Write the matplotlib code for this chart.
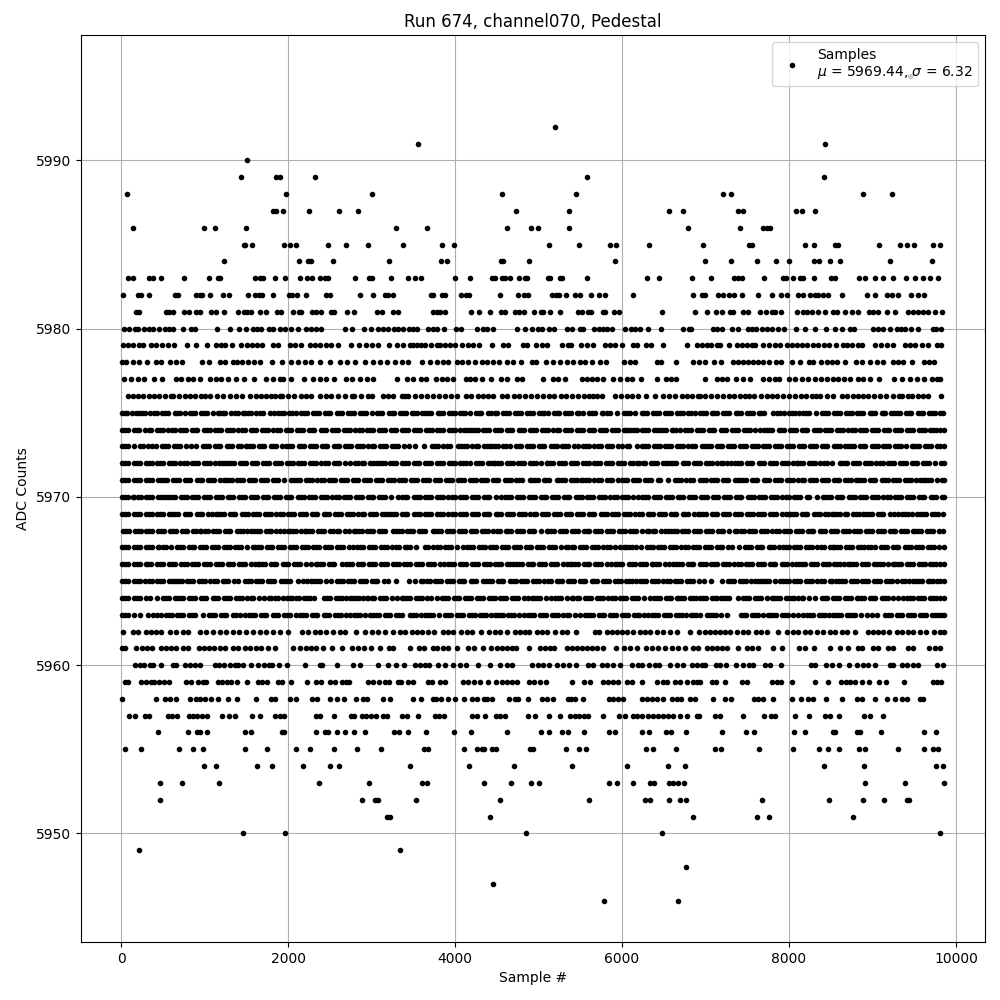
import numpy as np
import matplotlib
matplotlib.use("Agg")
import matplotlib.pyplot as plt

# sample numbers, one list per ADC level
s5995 = [9450]
s5992 = [5200]
s5991 = [3560, 8434]
s5990 = [1508]
s5989 = [1436, 1860, 1900, 2324, 5584, 8422]
s5988 = [68, 1976, 3008, 4566, 5452, 7213, 7309, 8889, 9236]
s5987 = [1820, 1850, 1940, 2252, 2612, 2840, 4734, 5368, 6565, 6732, 7393, 7452, 8087, 8151, 8314]
s5986 = [140, 992, 1124, 1496, 3296, 3668, 4626, 4913, 4997, 5368, 6792, 7416, 7692, 7732, 7772]
s5985 = [1472, 1490, 1568, 1952, 2024, 2096, 2480, 2696, 2960, 3380, 3848, 3991, 5128, 5488, 5859, 5931, 6326,
         6974, 7524, 7552, 8190, 8302, 8550, 8590, 9080, 9332, 9415, 9499, 9727, 9810]
s5984 = [1232, 2132, 2240, 2280, 2540, 3212, 3836, 3908, 4554, 4578, 4889, 5919, 6998, 7309, 7620, 7847, 8003,
         8302, 8354, 8494, 8613, 9212, 9715]
s5983 = [80, 148, 340, 380, 476, 752, 1052, 1160, 1180, 1600, 1660, 1700, 1844, 1964, 2144, 2228, 2288, 2384, 2444,
         2476, 2804, 2972, 3004, 3236, 3441, 3525, 3596, 4003, 4183, 4446, 4478, 4566, 4602, 4662, 4769, 4837, 4857,
         5117, 5137, 5256, 5284, 5584, 6302, 6445, 6834, 7069, 7345, 7393, 7432, 7704, 7923, 7963, 8051, 8131, 8163,
         8302, 8506, 8554, 8841, 8913, 9028, 9120, 9248, 9404, 9511, 9607, 9691, 9790]
s5982 = [20, 200, 236, 332, 640, 676, 896, 940, 964, 1064, 1220, 1292, 1520, 1600, 1652, 1692, 1820, 2008, 2052, 2112,
         2216, 2460, 2500, 2864, 3020, 3164, 3200, 3260, 3712, 3740, 3848, 3880, 4075, 4131, 4163, 4542, 4757, 4829,
         4877, 5164, 5208, 5248, 5332, 5440, 5496, 5631, 5727, 5795, 6134, 6854, 6958, 6990, 7153, 7205, 7285, 7341,
         7432, 7632, 7800, 7899, 7979, 8111, 8171, 8250, 8310, 8350, 8410, 8470, 8637, 8937, 9032, 9176, 9228, 9308,
         9463, 9547, 9619]
s5981 = [180, 212, 532, 568, 624, 748, 812, 900, 940, 1080, 1132, 1232, 1400, 1468, 1508, 1560, 1664, 1736, 1872, 1916,
         2060, 2132, 2160, 2284, 2340, 2392, 2512, 2548, 2708, 2792, 3068, 3120, 3260, 3312, 3740, 3780, 3820, 3884,
         4195, 4291, 4422, 4554, 4598, 4722, 4769, 4825, 4949, 5033, 5057, 5140, 5260, 5476, 5516, 5595, 5627, 5775,
         5799, 5907, 5962, 6481, 6878, 7021, 7125, 7201, 7293, 7333, 7452, 7512, 7652, 7720, 7792, 7831, 7899, 8099,
         8171, 8211, 8270, 8350, 8430, 8530, 8570, 8669, 8749, 8829, 8961, 9009, 9068, 9176, 9272, 9427, 9487, 9547,
         9607, 9663, 9751, 9834]
s5980 = [40, 92, 172, 200, 280, 332, 380, 452, 520, 572, 620, 736, 832, 880, 1148, 1304, 1412, 1496, 1580, 1628, 1680,
         1772, 1820, 1900, 1960, 2036, 2120, 2216, 2280, 2340, 2400, 2684, 2760, 2912, 2996, 3080, 3140, 3200, 3272,
         3320, 3373, 3453, 3493, 3541, 3680, 3740, 3788, 3872, 4011, 4075, 4267, 4339, 4386, 4458, 4745, 4841, 4925,
         4997, 5037, 5125, 5188, 5336, 5404, 5496, 5532, 5667, 5723, 5775, 5823, 5879, 6038, 6102, 6158, 6214, 6314,
         6469, 6732, 6804, 6820, 7093, 7141, 7193, 7321, 7385, 7512, 7552, 7600, 7672, 7732, 7792, 7871, 7939, 8087,
         8195, 8314, 8438, 8554, 8629, 8729, 8777, 9009, 9068, 9128, 9208, 9288, 9336, 9391, 9463, 9547, 9727, 9759, 9826]
s5979 = [28, 80, 140, 220, 268, 360, 420, 492, 560, 628, 788, 892, 1028, 1140, 1200, 1248, 1328, 1440, 1508, 1572, 1628,
         1692, 1820, 1880, 2020, 2080, 2160, 2260, 2320, 2388, 2460, 2520, 2600, 2748, 2852, 2928, 3000, 3080, 3212,
         3300, 3380, 3461, 3501, 3548, 3588, 3640, 3708, 3780, 3820, 3880, 3940, 4000, 4079, 4159, 4219, 4291, 4438,
         4570, 4638, 4809, 4857, 4969, 5037, 5097, 5284, 5356, 5388, 5512, 5575, 5647, 5791, 5855, 5915, 5994, 6134,
         6182, 6282, 6349, 6493, 6772, 6902, 6954, 7014, 7065, 7141, 7173, 7285, 7373, 7432, 7492, 7552, 7592, 7684,
         7764, 7827, 7891, 7971, 8031, 8091, 8151, 8211, 8282, 8350, 8418, 8482, 8558, 8649, 8697, 8757, 8821, 8869,
         9028, 9096, 9176, 9248, 9387, 9447, 9507, 9587, 9667, 9767, 9826]
s5978 = [13, 60, 140, 220, 308, 420, 480, 580, 652, 728, 968, 1048, 1180, 1240, 1340, 1388, 1452, 1520, 1588, 1660, 1808,
         1924, 2040, 2120, 2200, 2280, 2388, 2500, 2620, 2700, 2800, 2916, 3020, 3100, 3180, 3280, 3360, 3441, 3608,
         3700, 3780, 3860, 3920, 4019, 4079, 4159, 4239, 4319, 4378, 4458, 4530, 4626, 4690, 4793, 4917, 4969, 5089,
         5168, 5256, 5336, 5416, 5496, 5556, 5635, 5735, 5811, 6022, 6094, 6154, 6413, 6461, 6649, 6854, 6920, 6994,
         7101, 7189, 7325, 7393, 7452, 7512, 7572, 7632, 7684, 7764, 7843, 7899, 8031, 8131, 8242, 8282, 8378, 8450,
         8510, 8570, 8669, 8801, 8869, 8969, 9056, 9120, 9240, 9308, 9368, 9471, 9619, 9679, 9739]
s5977 = [40, 120, 200, 280, 400, 492, 652, 720, 800, 860, 940, 1064, 1140, 1200, 1280, 1380, 1472, 1592, 1740, 1820, 1900,
         1940, 2032, 2196, 2300, 2380, 2460, 2548, 2692, 2760, 2860, 2940, 3020, 3300, 3420, 3493, 3588, 3652, 3772,
         3840, 3900, 3971, 4131, 4179, 4239, 4319, 4426, 4546, 4618, 4738, 4797, 5049, 5176, 5236, 5316, 5516, 5575,
         5635, 5695, 5775, 5895, 5974, 6054, 6114, 6222, 6421, 6525, 6581, 6645, 6998, 7141, 7201, 7261, 7361, 7452,
         7532, 7692, 7764, 7831, 7883, 8003, 8071, 8151, 8230, 8310, 8378, 8450, 8530, 8590, 8657, 8729, 8821, 8889,
         8969, 9080, 9256, 9348, 9447, 9527, 9619, 9707, 9767, 9814]
s5976 = [80, 140, 205, 262, 330, 395, 460, 530, 600, 620, 690, 760, 820, 890, 960, 1000, 1068, 1145, 1220, 1300, 1372,
         1450, 1540, 1610, 1675, 1740, 1800, 1840, 1900, 1932, 2000, 2070, 2150, 2215, 2280, 2380, 2450, 2520, 2600,
         2680, 2760, 2788, 2868, 2960, 3000, 3132, 3200, 3260, 3360, 3400, 3441, 3520, 3590, 3665, 3730, 3805, 3875,
         3950, 4019, 4127, 4190, 4270, 4335, 4400, 4458, 4558, 4625, 4700, 4770, 4840, 4905, 4985, 5055, 5120, 5190,
         5265, 5330, 5400, 5475, 5540, 5600, 5655, 5695, 5755, 5915, 5985, 6054, 6114, 6194, 6282, 6395, 6493, 6565,
         6640, 6713, 6772, 6840, 6912, 6934, 6994, 7070, 7140, 7205, 7285, 7345, 7410, 7470, 7524, 7580, 7660, 7740,
         7792, 7860, 7930, 8000, 8075, 8140, 8205, 8270, 8322, 8370, 8450, 8530, 8637, 8700, 8765, 8830, 8889, 8949,
         9015, 9090, 9160, 9240, 9320, 9352, 9427, 9467, 9540, 9607, 9667, 9815]
s5975 = [13, 45, 75, 130, 180, 212, 250, 285, 350, 390, 425, 495, 530, 560, 640, 670, 700, 770, 820, 855, 885, 955, 990, 1030,
         1095, 1160, 1180, 1215, 1250, 1320, 1360, 1395, 1460, 1480, 1515, 1555, 1620, 1660, 1700, 1780, 1828, 1880, 1915,
         1950, 2015, 2050, 2090, 2155, 2195, 2230, 2300, 2335, 2370, 2440, 2475, 2505, 2580, 2615, 2645, 2720, 2755, 2790,
         2860, 2895, 2930, 3000, 3060, 3095, 3130, 3205, 3240, 3270, 3345, 3375, 3410, 3480, 3510, 3540, 3600, 3644, 3680,
         3715, 3790, 3825, 3860, 3925, 3965, 4000, 4065, 4100, 4125, 4180, 4250, 4285, 4315, 4390, 4425, 4480, 4506, 4578,
         4610, 4645, 4720, 4750, 4785, 4860, 4895, 4930, 5009, 5037, 5070, 5110, 5180, 5215, 5245, 5320, 5355, 5390, 5455,
         5490, 5530, 5600, 5640, 5680, 5755, 5775, 5815, 5860, 5942, 6022, 6055, 6090, 6158, 6234, 6265, 6300, 6375, 6410,
         6440, 6520, 6555, 6590, 6660, 6695, 6725, 6792, 6830, 6870, 6932, 6965, 7000, 7073, 7105, 7140, 7215, 7250, 7280,
         7360, 7390, 7425, 7500, 7530, 7565, 7640, 7670, 7705, 7812, 7860, 7895, 7935, 8005, 8040, 8070, 8123, 8163, 8200,
         8240, 8322, 8398, 8435, 8470, 8535, 8575, 8610, 8680, 8715, 8750, 8820, 8855, 8890, 8965, 8995, 9035, 9108, 9120,
         9155, 9216, 9256, 9290, 9325, 9400, 9435, 9465, 9540, 9575, 9610, 9680, 9715, 9745, 9810, 9850]
s5974 = [13, 45, 80, 150, 190, 215, 290, 330, 360, 425, 465, 500, 565, 605, 640, 705, 745, 780, 850, 885, 915, 990, 1025, 1060,
         1125, 1165, 1200, 1270, 1305, 1340, 1405, 1445, 1480, 1550, 1585, 1615, 1690, 1725, 1760, 1825, 1865, 1900, 1970,
         2005, 2040, 2105, 2145, 2180, 2250, 2285, 2315, 2390, 2425, 2460, 2530, 2565, 2595, 2670, 2705, 2740, 2805, 2845,
         2880, 2950, 2985, 3020, 3085, 3125, 3160, 3230, 3265, 3295, 3370, 3405, 3440, 3510, 3545, 3575, 3650, 3685, 3720,
         3785, 3825, 3860, 3930, 3965, 4000, 4065, 4105, 4140, 4179, 4199, 4235, 4270, 4340, 4375, 4405, 4480, 4515, 4550,
         4620, 4655, 4685, 4760, 4795, 4830, 4895, 4935, 4970, 5040, 5075, 5110, 5175, 5215, 5250, 5320, 5350, 5385, 5460,
         5495, 5530, 5600, 5635, 5665, 5740, 5775, 5810, 5875, 5915, 5950, 6020, 6050, 6074, 6102, 6140, 6175, 6240, 6280,
         6315, 6385, 6422, 6453, 6490, 6530, 6593, 6613, 6650, 6690, 6760, 6795, 6825, 6900, 6935, 6970, 7040, 7075, 7105,
         7180, 7215, 7250, 7315, 7355, 7390, 7460, 7495, 7530, 7595, 7650, 7700, 7732, 7765, 7800, 7875, 7905, 7940, 8015,
         8050, 8085, 8155, 8190, 8220, 8295, 8330, 8365, 8430, 8470, 8505, 8575, 8610, 8645, 8710, 8750, 8785, 8855, 8890,
         8920, 8995, 9030, 9065, 9135, 9170, 9200, 9275, 9310, 9345, 9410, 9450, 9485, 9555, 9590, 9625, 9690, 9730, 9765,
         9810, 9855]
s5973 = [13, 45, 85, 155, 230, 265, 320, 368, 420, 490, 525, 560, 635, 665, 700, 775, 832, 892, 980, 1015, 1050, 1120, 1155,
         1190, 1265, 1295, 1330, 1405, 1440, 1492, 1508, 1545, 1580, 1650, 1685, 1715, 1790, 1825, 1860, 1932, 1980, 2015,
         2050, 2125, 2155, 2190, 2265, 2300, 2335, 2405, 2440, 2470, 2545, 2580, 2615, 2680, 2720, 2755, 2825, 2860, 2895,
         2960, 3000, 3035, 3105, 3135, 3170, 3245, 3280, 3315, 3385, 3453, 3525, 3632, 3720, 3760, 3795, 3860, 3900, 3935,
         4040, 4067, 4105, 4140, 4205, 4245, 4280, 4350, 4385, 4418, 4438, 4475, 4510, 4580, 4615, 4655, 4725, 4760, 4795,
         4860, 4900, 4935, 5005, 5040, 5070, 5145, 5180, 5215, 5285, 5320, 5350, 5425, 5468, 5528, 5565, 5600, 5670, 5710,
         5745, 5815, 5845, 5880, 5955, 6000, 6062, 6086, 6182, 6234, 6270, 6305, 6380, 6415, 6450, 6515, 6555, 6590, 6660,
         6695, 6730, 6795, 6835, 6870, 6954, 6994, 7030, 7065, 7135, 7170, 7200, 7275, 7310, 7345, 7410, 7450, 7485, 7555,
         7590, 7625, 7690, 7730, 7765, 7835, 7870, 7900, 7975, 8010, 8045, 8115, 8150, 8180, 8255, 8290, 8325, 8395, 8430,
         8460, 8535, 8570, 8605, 8670, 8709, 8745, 8780, 8850, 8885, 8915, 8990, 9025, 9060, 9130, 9165, 9195, 9270, 9305,
         9340, 9405, 9467, 9487, 9525, 9560, 9630, 9665, 9695, 9770, 9810, 9855]
s5972 = [13, 50, 85, 150, 190, 225, 295, 330, 365, 430, 470, 505, 575, 610, 645, 710, 750, 785, 855, 890, 920, 995, 1030, 1065,
         1130, 1170, 1205, 1240, 1280, 1315, 1350, 1420, 1460, 1495, 1565, 1600, 1630, 1705, 1740, 1775, 1845, 1880, 1910,
         1985, 2020, 2055, 2120, 2160, 2195, 2265, 2300, 2335, 2400, 2440, 2475, 2545, 2580, 2610, 2685, 2745, 2800, 2840,
         2880, 2915, 2985, 3020, 3052, 3084, 3120, 3155, 3225, 3260, 3290, 3365, 3400, 3435, 3505, 3540, 3570, 3645, 3680,
         3715, 3780, 3820, 3855, 3925, 3960, 3995, 4060, 4100, 4135, 4179, 4250, 4285, 4320, 4395, 4430, 4466, 4478, 4515,
         4550, 4620, 4660, 4698, 4757, 4795, 4830, 4900, 4935, 4970, 5035, 5097, 5105, 5140, 5175, 5250, 5285, 5320, 5385,
         5425, 5460, 5530, 5565, 5600, 5665, 5705, 5740, 5810, 5845, 5875, 5950, 5985, 6020, 6090, 6130, 6174, 6206, 6245,
         6280, 6350, 6385, 6415, 6490, 6525, 6553, 6581, 6615, 6650, 6725, 6760, 6795, 6860, 6900, 6935, 7005, 7040, 7075,
         7140, 7180, 7215, 7261, 7301, 7353, 7390, 7425, 7495, 7530, 7560, 7635, 7670, 7705, 7770, 7810, 7845, 7915, 7950,
         7985, 8050, 8091, 8099, 8135, 8170, 8240, 8275, 8310, 8375, 8415, 8450, 8520, 8610, 8629, 8665, 8700, 8770, 8805,
         8835, 8910, 8945, 8980, 9045, 9085, 9120, 9190, 9225, 9260, 9325, 9365, 9400, 9470, 9505, 9535, 9610, 9645, 9680,
         9750, 9815, 9855]
s5971 = [13, 50, 85, 150, 190, 225, 295, 330, 365, 440, 480, 515, 550, 620, 660, 695, 765, 800, 830, 905, 940, 975, 1040, 1080,
         1115, 1180, 1228, 1252, 1290, 1325, 1390, 1430, 1465, 1535, 1570, 1600, 1675, 1710, 1745, 1815, 1850, 1880, 1955,
         2040, 2068, 2105, 2140, 2210, 2245, 2285, 2350, 2390, 2425, 2495, 2530, 2560, 2635, 2670, 2705, 2775, 2810, 2840,
         2915, 2950, 2985, 3050, 3090, 3125, 3195, 3230, 3265, 3330, 3370, 3405, 3475, 3510, 3540, 3615, 3650, 3685, 3755,
         3790, 3820, 3895, 3930, 3965, 4030, 4070, 4105, 4175, 4210, 4245, 4310, 4350, 4385, 4455, 4490, 4520, 4595, 4630,
         4665, 4735, 4770, 4800, 4897, 4917, 4955, 4990, 5060, 5095, 5125, 5216, 5248, 5285, 5320, 5390, 5425, 5455, 5508,
         5528, 5565, 5600, 5670, 5710, 5745, 5815, 5850, 5880, 5954, 5994, 6030, 6065, 6135, 6170, 6200, 6275, 6310, 6345,
         6433, 6453, 6545, 6633, 6670, 6705, 6770, 6810, 6845, 6932, 6965, 7000, 7065, 7105, 7140, 7210, 7245, 7275, 7350,
         7393, 7413, 7450, 7485, 7555, 7590, 7620, 7695, 7730, 7765, 7830, 7870, 7905, 7975, 8010, 8045, 8110, 8150, 8185,
         8255, 8290, 8320, 8395, 8430, 8465, 8535, 8570, 8600, 8675, 8710, 8745, 8797, 8829, 8865, 8900, 8970, 9005, 9035,
         9110, 9145, 9180, 9250, 9285, 9315, 9390, 9425, 9460, 9525, 9565, 9599, 9627, 9665, 9700, 9770, 9835, 9855]
s5970 = [13, 50, 80, 140, 160, 200, 235, 300, 340, 375, 445, 480, 510, 548, 572, 610, 645, 715, 750, 785, 850, 890, 925, 995,
         1030, 1060, 1135, 1170, 1205, 1275, 1310, 1340, 1415, 1450, 1485, 1550, 1590, 1625, 1695, 1730, 1765, 1830, 1870,
         1905, 1975, 2010, 2040, 2115, 2150, 2185, 2255, 2290, 2320, 2395, 2430, 2465, 2530, 2570, 2605, 2675, 2710, 2745,
         2810, 2850, 2885, 2955, 2990, 3020, 3095, 3130, 3165, 3235, 3320, 3361, 3395, 3430, 3505, 3540, 3575, 3640, 3680,
         3715, 3785, 3820, 3855, 3920, 3960, 3995, 4065, 4100, 4130, 4205, 4240, 4275, 4345, 4380, 4410, 4485, 4546, 4598,
         4635, 4670, 4745, 4780, 4815, 4880, 4920, 4955, 5025, 5060, 5095, 5160, 5200, 5235, 5305, 5340, 5370, 5445, 5480,
         5515, 5585, 5620, 5650, 5725, 5760, 5795, 5860, 5900, 5935, 6005, 6040, 6075, 6134, 6190, 6242, 6280, 6315, 6385,
         6420, 6450, 6525, 6560, 6595, 6665, 6700, 6730, 6805, 6840, 6875, 6940, 6980, 7015, 7085, 7120, 7155, 7220, 7260,
         7295, 7365, 7400, 7430, 7505, 7540, 7575, 7645, 7680, 7710, 7785, 7820, 7855, 7920, 7960, 7995, 8065, 8100, 8135,
         8210, 8242, 8330, 8410, 8430, 8465, 8500, 8575, 8610, 8640, 8715, 8750, 8785, 8850, 8890, 8925, 8995, 9030, 9065,
         9130, 9170, 9205, 9275, 9310, 9340, 9415, 9450, 9485, 9555, 9590, 9620, 9695, 9730, 9765, 9830, 9855]
s5969 = [13, 50, 85, 150, 190, 225, 295, 330, 365, 430, 470, 505, 575, 610, 640, 680, 760, 795, 830, 905, 940, 975, 1040, 1090,
         1140, 1160, 1200, 1235, 1305, 1340, 1370, 1445, 1480, 1515, 1585, 1620, 1650, 1725, 1760, 1795, 1860, 1900, 1935,
         2005, 2040, 2075, 2140, 2180, 2215, 2285, 2320, 2350, 2425, 2460, 2495, 2565, 2600, 2630, 2705, 2740, 2775, 2840,
         2880, 2915, 2985, 3020, 3055, 3120, 3160, 3200, 3220, 3260, 3295, 3365, 3400, 3430, 3505, 3540, 3575, 3645, 3680,
         3710, 3785, 3820, 3855, 3920, 3960, 3995, 4065, 4100, 4135, 4200, 4240, 4275, 4345, 4380, 4410, 4485, 4520, 4555,
         4625, 4660, 4690, 4765, 4800, 4835, 4900, 4940, 4975, 5045, 5080, 5115, 5180, 5220, 5255, 5325, 5360, 5390, 5465,
         5500, 5535, 5605, 5640, 5670, 5745, 5780, 5815, 5880, 5920, 5955, 6025, 6060, 6095, 6160, 6200, 6235, 6305, 6340,
         6370, 6445, 6480, 6515, 6585, 6620, 6650, 6725, 6760, 6795, 6860, 6914, 6934, 6970, 7005, 7075, 7110, 7140, 7215,
         7250, 7285, 7355, 7390, 7420, 7495, 7530, 7565, 7630, 7670, 7705, 7775, 7810, 7845, 7910, 7960, 8003, 8011, 8050,
         8085, 8155, 8190, 8220, 8295, 8330, 8365, 8430, 8470, 8510, 8538, 8575, 8610, 8669, 8697, 8769, 8805, 8840, 8889,
         8921, 8960, 8995, 9065, 9100, 9130, 9205, 9255, 9308, 9348, 9390, 9427, 9467, 9527, 9567, 9605, 9640, 9710, 9745,
         9780, 9846]
s5968 = [20, 55, 90, 165, 200, 235, 300, 340, 375, 445, 480, 515, 580, 620, 655, 725, 760, 790, 865, 900, 940, 960, 1000, 1035,
         1100, 1140, 1175, 1245, 1280, 1310, 1385, 1420, 1455, 1510, 1560, 1592, 1630, 1665, 1735, 1770, 1800, 1860, 1900,
         1950, 2000, 2020, 2060, 2095, 2150, 2200, 2220, 2255, 2290, 2360, 2400, 2435, 2500, 2540, 2580, 2615, 2685, 2735,
         2788, 2808, 2845, 2880, 2950, 2985, 3015, 3090, 3125, 3160, 3260, 3288, 3325, 3360, 3425, 3465, 3500, 3570, 3605,
         3635, 3740, 3760, 3800, 3835, 3905, 3940, 3970, 4045, 4080, 4115, 4185, 4220, 4250, 4325, 4360, 4395, 4460, 4500,
         4535, 4605, 4640, 4675, 4740, 4780, 4815, 4885, 4920, 4950, 5025, 5097, 5117, 5155, 5190, 5260, 5295, 5325, 5400,
         5435, 5470, 5540, 5575, 5605, 5680, 5715, 5750, 5815, 5855, 5890, 5960, 5995, 6030, 6095, 6135, 6170, 6240, 6302,
         6326, 6365, 6400, 6470, 6515, 6553, 6581, 6620, 6655, 6720, 6760, 6795, 6865, 6900, 6930, 7005, 7040, 7075, 7145,
         7180, 7210, 7285, 7353, 7381, 7420, 7455, 7525, 7560, 7590, 7665, 7700, 7735, 7800, 7840, 7875, 7945, 7980, 8015,
         8080, 8120, 8155, 8225, 8260, 8290, 8365, 8400, 8435, 8505, 8540, 8570, 8645, 8680, 8715, 8780, 8820, 8855, 8925,
         8960, 8995, 9060, 9100, 9135, 9205, 9240, 9270, 9345, 9380, 9415, 9479, 9511, 9550, 9585, 9655, 9690, 9720, 9795, 9850]
s5967 = [13, 50, 85, 155, 195, 230, 300, 335, 370, 440, 460, 500, 535, 600, 668, 705, 740, 810, 845, 875, 950, 985, 1020, 1085,
         1125, 1160, 1230, 1265, 1300, 1365, 1405, 1440, 1510, 1580, 1600, 1640, 1675, 1745, 1780, 1810, 1885, 1920, 1955,
         2020, 2060, 2095, 2165, 2200, 2235, 2300, 2340, 2375, 2445, 2480, 2510, 2585, 2620, 2655, 2725, 2780, 2828, 2865,
         2900, 2975, 3010, 3040, 3115, 3150, 3185, 3250, 3290, 3325, 3395, 3430, 3460, 3535, 3640, 3680, 3740, 3780, 3815,
         3885, 3920, 3950, 4025, 4099, 4139, 4175, 4210, 4285, 4320, 4355, 4420, 4460, 4495, 4565, 4600, 4630, 4705, 4740,
         4775, 4845, 4880, 4910, 4985, 5020, 5055, 5120, 5160, 5195, 5265, 5324, 5356, 5395, 5430, 5500, 5535, 5565, 5640,
         5675, 5710, 5775, 5815, 5850, 5920, 5970, 6022, 6046, 6085, 6120, 6170, 6222, 6294, 6330, 6365, 6435, 6470, 6500,
         6575, 6610, 6645, 6710, 6750, 6785, 6855, 6890, 6925, 6990, 7030, 7065, 7135, 7170, 7200, 7275, 7321, 7400, 7472,
         7510, 7545, 7615, 7650, 7680, 7755, 7790, 7825, 7883, 7923, 7960, 7995, 8065, 8100, 8130, 8205, 8240, 8275, 8340,
         8380, 8415, 8485, 8530, 8542, 8580, 8615, 8685, 8720, 8750, 8825, 8860, 8895, 8940, 8980, 9028, 9100, 9140, 9175,
         9245, 9280, 9310, 9385, 9420, 9455, 9520, 9560, 9595, 9665, 9700, 9735, 9800, 9855]
s5966 = [13, 50, 80, 150, 190, 225, 295, 325, 360, 435, 470, 505, 570, 610, 645, 715, 750, 785, 850, 890, 925, 995, 1030, 1060,
         1135, 1170, 1205, 1275, 1310, 1340, 1415, 1450, 1485, 1550, 1600, 1640, 1652, 1690, 1725, 1795, 1830, 1860, 1935,
         1970, 2005, 2070, 2110, 2145, 2215, 2280, 2332, 2348, 2385, 2420, 2490, 2525, 2555, 2640, 2692, 2730, 2765, 2835,
         2870, 2900, 2975, 3010, 3045, 3115, 3150, 3180, 3255, 3290, 3325, 3390, 3430, 3465, 3535, 3570, 3600, 3675, 3710,
         3745, 3815, 3872, 3920, 3955, 3990, 4060, 4100, 4135, 4205, 4240, 4270, 4345, 4380, 4415, 4480, 4520, 4555, 4625,
         4660, 4698, 4726, 4765, 4800, 4870, 4905, 4935, 5010, 5045, 5080, 5145, 5185, 5220, 5290, 5335, 5376, 5396, 5435,
         5470, 5540, 5575, 5605, 5680, 5715, 5750, 5815, 5865, 5914, 5935, 5970, 6005, 6080, 6115, 6150, 6215, 6255, 6290,
         6353, 6373, 6410, 6445, 6515, 6565, 6613, 6645, 6685, 6720, 6790, 6825, 6855, 6930, 6965, 7000, 7065, 7105, 7140,
         7210, 7245, 7280, 7345, 7385, 7420, 7490, 7525, 7555, 7630, 7665, 7700, 7770, 7805, 7835, 7910, 7945, 7980, 8030,
         8083, 8123, 8160, 8195, 8265, 8300, 8330, 8405, 8440, 8475, 8540, 8580, 8615, 8660, 8709, 8729, 8765, 8800, 8870,
         8905, 8940, 9020, 9056, 9095, 9130, 9190, 9248, 9272, 9310, 9345, 9415, 9450, 9480, 9555, 9590, 9625, 9690, 9730,
         9765, 9810, 9855]
s5965 = [13, 50, 85, 155, 190, 225, 290, 330, 365, 435, 470, 500, 575, 610, 640, 652, 690, 725, 795, 830, 860, 935, 970, 1005,
         1070, 1110, 1145, 1215, 1250, 1285, 1350, 1400, 1480, 1515, 1550, 1620, 1655, 1690, 1760, 1795, 1830, 1920, 1948,
         1985, 2020, 2120, 2180, 2230, 2280, 2312, 2350, 2385, 2450, 2512, 2580, 2620, 2655, 2720, 2755, 2790, 2865, 2900,
         2935, 3005, 3040, 3070, 3145, 3200, 3296, 3449, 3520, 3588, 3620, 3660, 3695, 3765, 3800, 3830, 3905, 3940, 3975,
         4045, 4080, 4110, 4185, 4220, 4255, 4339, 4370, 4410, 4445, 4515, 4550, 4580, 4655, 4690, 4725, 4790, 4830, 4865,
         4935, 4970, 5005, 5070, 5110, 5145, 5215, 5250, 5280, 5355, 5390, 5425, 5495, 5530, 5560, 5635, 5670, 5705, 5770,
         5810, 5845, 5915, 5950, 5985, 6050, 6080, 6114, 6166, 6214, 6250, 6285, 6360, 6395, 6430, 6495, 6535, 6570, 6640,
         6675, 6705, 6780, 6815, 6850, 6920, 6982, 7061, 7193, 7273, 7310, 7345, 7415, 7450, 7485, 7550, 7590, 7625, 7660,
         7692, 7730, 7765, 7830, 7891, 7923, 7960, 7995, 8065, 8100, 8130, 8205, 8240, 8275, 8340, 8380, 8415, 8485, 8520,
         8558, 8598, 8635, 8670, 8740, 8775, 8810, 8875, 8915, 8950, 9020, 9055, 9085, 9160, 9195, 9230, 9295, 9348, 9387,
         9440, 9487, 9519, 9555, 9590, 9660, 9690, 9719, 9767, 9810, 9855]
s5964 = [13, 50, 85, 155, 195, 230, 300, 348, 432, 500, 535, 570, 640, 675, 705, 740, 812, 850, 885, 955, 990, 1020, 1095, 1130,
         1165, 1230, 1270, 1305, 1375, 1410, 1445, 1510, 1550, 1585, 1655, 1715, 1772, 1800, 1840, 1875, 1945, 1985, 2020,
         2052, 2090, 2125, 2195, 2230, 2268, 2312, 2428, 2465, 2500, 2570, 2605, 2640, 2690, 2740, 2772, 2810, 2845, 2900,
         2940, 2960, 3000, 3035, 3105, 3140, 3170, 3245, 3300, 3360, 3389, 3425, 3460, 3530, 3565, 3600, 3660, 3708, 3780,
         3840, 3880, 3915, 3985, 4020, 4050, 4125, 4160, 4195, 4260, 4300, 4335, 4405, 4440, 4475, 4540, 4580, 4615, 4685,
         4720, 4750, 4825, 4870, 4917, 4949, 4985, 5020, 5090, 5149, 5196, 5235, 5270, 5340, 5396, 5416, 5455, 5490, 5560,
         5595, 5625, 5700, 5735, 5770, 5835, 5875, 5910, 5980, 6015, 6050, 6115, 6155, 6190, 6260, 6333, 6381, 6420, 6455,
         6525, 6560, 6590, 6653, 6673, 6710, 6745, 6815, 6850, 6885, 6932, 6965, 7000, 7075, 7110, 7140, 7181, 7213, 7250,
         7285, 7393, 7452, 7490, 7525, 7595, 7630, 7660, 7735, 7792, 7820, 7860, 7895, 7965, 8000, 8031, 8059, 8105, 8151,
         8171, 8240, 8310, 8390, 8425, 8460, 8530, 8565, 8600, 8670, 8705, 8740, 8809, 8829, 8865, 8900, 8970, 9005, 9035,
         9110, 9145, 9180, 9250, 9310, 9368, 9408, 9445, 9480, 9550, 9585, 9615, 9690, 9725, 9760, 9810, 9855]
s5963 = [12, 50, 85, 160, 232, 320, 380, 430, 480, 532, 570, 605, 675, 710, 745, 810, 850, 885, 980, 1052, 1090, 1125, 1195, 1230,
         1260, 1335, 1380, 1428, 1480, 1532, 1570, 1605, 1675, 1710, 1740, 1815, 1850, 1885, 1950, 1990, 2025, 2100, 2140,
         2180, 2215, 2285, 2320, 2350, 2425, 2460, 2495, 2560, 2600, 2635, 2690, 2740, 2788, 2825, 2860, 2920, 2980, 3012,
         3050, 3085, 3155, 3190, 3220, 3295, 3330, 3365, 3460, 3500, 3535, 3590, 3640, 3668, 3705, 3740, 3812, 3880, 3920,
         3955, 4025, 4060, 4090, 4165, 4200, 4235, 4300, 4340, 4375, 4430, 4478, 4498, 4535, 4570, 4640, 4675, 4710, 4770,
         4825, 4877, 4915, 4950, 5020, 5055, 5085, 5160, 5195, 5230, 5295, 5335, 5370, 5440, 5500, 5556, 5575, 5615, 5650,
         5720, 5755, 5785, 5860, 5895, 5930, 5995, 6035, 6070, 6140, 6175, 6205, 6260, 6314, 6361, 6400, 6435, 6505, 6540,
         6570, 6645, 6680, 6715, 6770, 6820, 6852, 6890, 6932, 7014, 7053, 7090, 7125, 7190, 7253, 7420, 7455, 7490, 7560,
         7595, 7630, 7690, 7752, 7772, 7810, 7845, 7915, 7950, 7985, 8050, 8105, 8163, 8218, 8255, 8290, 8360, 8395, 8430,
         8480, 8530, 8550, 8590, 8625, 8690, 8721, 8760, 8795, 8865, 8930, 8989, 9056, 9148, 9185, 9220, 9290, 9325, 9355,
         9430, 9465, 9500, 9570, 9605, 9635, 9710, 9745, 9780, 9820, 9855]
s5962 = [20, 140, 200, 300, 360, 420, 480, 580, 660, 740, 800, 948, 1020, 1100, 1180, 1260, 1340, 1412, 1500, 1580, 1660,
         1740, 1820, 1900, 2000, 2168, 2240, 2328, 2388, 2460, 2540, 2620, 2680, 2812, 2920, 3000, 3080, 3160, 3260,
         3340, 3400, 3480, 3541, 3600, 3680, 3748, 3860, 3920, 3979, 4071, 4139, 4199, 4315, 4410, 4478, 4538, 4618,
         4718, 4777, 4837, 4889, 4977, 5037, 5097, 5196, 5276, 5336, 5448, 5675, 5723, 5815, 5875, 5935, 5994, 6054,
         6134, 6214, 6274, 6333, 6413, 6493, 6573, 6653, 6816, 6926, 6994, 7053, 7113, 7173, 7233, 7293, 7373, 7444,
         7512, 7600, 7660, 7732, 7871, 7979, 8051, 8111, 8190, 8250, 8330, 8410, 8490, 8550, 8630, 8690, 8789, 8941,
         9009, 9068, 9128, 9200, 9296, 9356, 9427, 9487, 9567, 9639, 9739, 9807, 9852]
s5961 = [13, 52, 180, 248, 308, 368, 480, 540, 600, 660, 740, 800, 932, 988, 1052, 1108, 1180, 1240, 1340, 1400, 1480, 1540,
         1620, 1680, 1760, 1840, 2060, 2140, 2220, 2280, 2340, 2420, 2532, 2640, 2768, 2840, 2908, 2988, 3104, 3212, 3260,
         3461, 3572, 3628, 3732, 3788, 3860, 3920, 4019, 4159, 4227, 4339, 4426, 4498, 4558, 4618, 4678, 4726, 4881,
         5017, 5077, 5137, 5188, 5336, 5396, 5456, 5516, 5575, 5635, 5695, 5775, 5931, 6022, 6094, 6174, 6282, 6353,
         6433, 6513, 6593, 6673, 6752, 6852, 6914, 7014, 7073, 7133, 7201, 7253, 7393, 7492, 7552, 7632, 7804, 7911,
         8123, 8190, 8302, 8494, 8610, 8709, 8829, 8869, 9000, 9068, 9188, 9248, 9427, 9479, 9679, 9747, 9807]
s5960 = [164, 228, 280, 348, 380, 476, 620, 660, 764, 820, 880, 940, 1120, 1172, 1232, 1300, 1360, 1400, 1460, 1556, 1640,
         1712, 1772, 1812, 1892, 1988, 2204, 2380, 2408, 2588, 2780, 2864, 3080, 3200, 3296, 3393, 3521, 3580, 3640, 3692,
         3800, 3884, 3979, 4059, 4135, 4275, 4422, 4542, 4618, 4678, 4925, 4997, 5057, 5125, 5224, 5288, 5368, 5452,
         5595, 5647, 5755, 5815, 5895, 5974, 6118, 6194, 6234, 6326, 6393, 6445, 6573, 6653, 6733, 6832, 6894, 6954,
         6994, 7125, 7173, 7249, 7369, 7452, 7524, 7572, 7712, 7772, 7907, 8258, 8310, 8438, 8510, 8601, 8721, 8817,
         8889, 8949, 9028, 9208, 9248, 9348, 9408, 9479, 9547, 9775, 9846]
s5959 = [52, 84, 240, 300, 360, 400, 460, 512, 572, 780, 840, 920, 980, 1020, 1160, 1208, 1268, 1320, 1388, 1508, 1640, 1692,
         1748, 1880, 1928, 2032, 2228, 2336, 2392, 2500, 2568, 2640, 2692, 2732, 2960, 3012, 3084, 3160, 3212, 3320, 3352,
         3441, 3493, 3672, 3728, 3820, 3880, 4099, 4159, 4227, 4299, 4398, 4486, 4558, 4618, 4678, 4738, 4889, 4945,
         5017, 5089, 5404, 5547, 5619, 5775, 5835, 5895, 5954, 6054, 6114, 6234, 6413, 6493, 6533, 6633, 6693, 6772,
         6852, 6894, 6934, 7073, 7125, 7237, 7432, 7492, 7800, 7851, 7903, 8039, 8310, 8470, 8618, 8681, 8729, 8789,
         8869, 8961, 9076, 9160, 9376, 9727, 9775, 9826]
s5958 = [13, 416, 520, 580, 656, 824, 892, 948, 1000, 1072, 1164, 1280, 1388, 1616, 1796, 1848, 2024, 2092, 2292, 2348, 2504,
         2580, 2672, 2816, 2900, 2948, 3140, 3224, 3501, 3588, 3732, 3772, 3836, 3920, 4003, 4111, 4199, 4259, 4350, 4386,
         4438, 4650, 4718, 4750, 4877, 5037, 5097, 5176, 5348, 5388, 5436, 5536, 5843, 5895, 5954, 6014, 6234, 6294,
         6353, 6413, 6485, 6593, 6653, 6712, 6812, 6874, 7093, 7237, 7301, 7584, 7632, 7692, 7812, 8035, 8147, 8230,
         8290, 8446, 8637, 8809, 8877, 9032, 9168, 9272, 9352, 9415, 9567, 9599]
s5957 = [92, 164, 292, 340, 560, 608, 672, 812, 860, 908, 972, 1032, 1208, 1292, 1364, 1568, 1664, 1844, 1900, 1956, 2340,
         2380, 2552, 2748, 2792, 2888, 2932, 2992, 3052, 3140, 3180, 3361, 3429, 3556, 3760, 3812, 3868, 4199, 4267, 4358,
         4486, 4538, 4598, 4877, 4961, 5129, 5260, 5380, 5436, 5488, 5543, 5595, 5767, 5966, 6034, 6134, 6174, 6242,
         6314, 6373, 6433, 6493, 6553, 6613, 6693, 6772, 6892, 6926, 7117, 7173, 7452, 7704, 7784, 7831, 8075, 8242,
         8434, 8494, 8601, 8901, 8973, 9128]
s5956 = [440, 800, 908, 940, 1028, 1484, 1556, 1924, 1956, 2336, 2444, 2484, 2588, 2684, 2792, 2924, 3268, 3324, 3441, 3656,
         3991, 4195, 4626, 5033, 5129, 5284, 5356, 5547, 5847, 5914, 6242, 6326, 6525, 6589, 6768, 7201, 7488, 7584,
         8063, 8195, 8530, 8554, 8809, 8849, 9104, 9619, 9763]
s5955 = [44, 236, 692, 860, 980, 1484, 1748, 2096, 2264, 2552, 2828, 3116, 3628, 3676, 4111, 4267, 4319, 4347, 4442, 4490,
         4897, 4937, 5332, 5488, 5571, 6290, 6373, 6649, 7117, 7181, 7644, 8051, 8362, 8470, 8601, 8841, 8913, 9308,
         9619, 9727, 9787]
s5954 = [992, 1136, 1628, 1808, 2180, 2504, 2612, 3465, 4171, 4710, 5404, 6062, 6553, 6757, 8422, 8901, 9763, 9846]
s5953 = [464, 728, 1172, 2372, 2972, 3608, 3660, 4350, 4674, 4913, 5009, 5843, 5942, 6130, 6333, 6385, 6565, 6613, 6673,
         6744, 8913, 9391, 9855]
s5952 = [464, 2888, 3040, 3080, 3537, 4542, 5607, 6278, 6338, 6565, 6697, 6768, 7680, 8482, 8889, 9140, 9408, 9440]
s5951 = [3188, 3220, 4422, 6854, 7620, 7764, 8769]
s5950 = [1460, 1964, 4853, 6481, 9810]
s5949 = [212, 3344]
s5948 = [6768]
s5947 = [4458]
s5946 = [5787, 6673]

rows = {5995: s5995, 5992: s5992, 5991: s5991, 5990: s5990, 5989: s5989, 5988: s5988, 5987: s5987,
        5986: s5986, 5985: s5985, 5984: s5984, 5983: s5983, 5982: s5982, 5981: s5981, 5980: s5980,
        5979: s5979, 5978: s5978, 5977: s5977, 5976: s5976, 5975: s5975, 5974: s5974, 5973: s5973,
        5972: s5972, 5971: s5971, 5970: s5970, 5969: s5969, 5968: s5968, 5967: s5967, 5966: s5966,
        5965: s5965, 5964: s5964, 5963: s5963, 5962: s5962, 5961: s5961, 5960: s5960, 5959: s5959,
        5958: s5958, 5957: s5957, 5956: s5956, 5955: s5955, 5954: s5954, 5953: s5953, 5952: s5952,
        5951: s5951, 5950: s5950, 5949: s5949, 5948: s5948, 5947: s5947, 5946: s5946}

x = np.concatenate([np.array(v) for v in rows.values()])
y = np.concatenate([np.full(len(v), k) for k, v in rows.items()])

plt.figure(figsize=(10, 10))
plt.plot(x, y, 'k.', label='Samples\n$\\mu$ = 5969.44, $\\sigma$ = 6.32')
plt.title('Run 674, channel070, Pedestal')
plt.xlabel('Sample #')
plt.ylabel('ADC Counts')
plt.grid(True)
plt.legend(loc='upper right')
plt.subplots_adjust(left=0.081, right=0.985, top=0.965, bottom=0.058)
plt.savefig('out.png', dpi=100)
